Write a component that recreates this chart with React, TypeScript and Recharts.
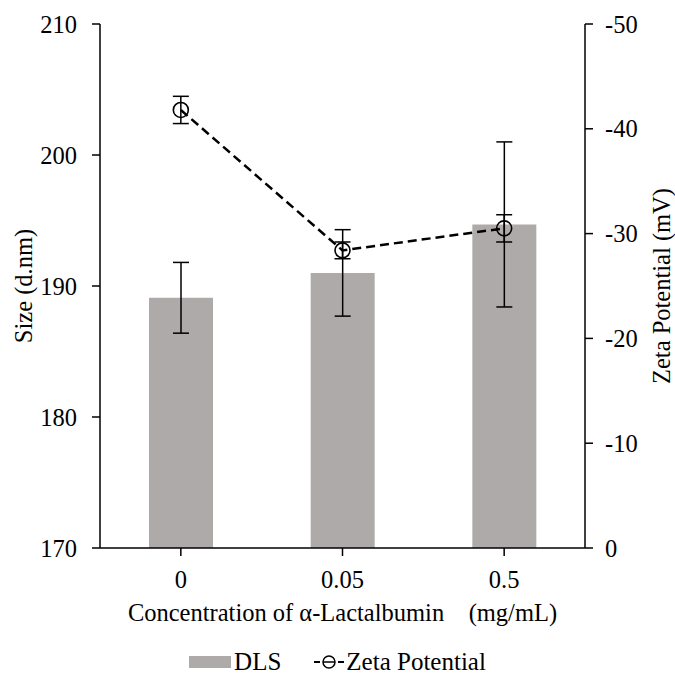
import { ComposedChart, Bar, Line, XAxis, YAxis, ErrorBar, Legend } from 'recharts';

const concentrations = ['0', '0.05', '0.5'];
const dlsSize = [189.1, 191.0, 194.7];
const dlsError = [2.7, 3.3, 6.3];
const zetaPotential = [-41.8, -28.4, -30.5];
const zetaError = [1.3, 0.8, 1.3];
const sizeTicks = [170, 180, 190, 200, 210];
const zetaTicks = [-50, -40, -30, -20, -10, 0];

const data = concentrations.map((conc, i) => ({
  conc,
  dls: dlsSize[i],
  dlsErr: dlsError[i],
  zeta: zetaPotential[i],
  zetaErr: zetaError[i],
}));

const FONT = '"Liberation Serif", "Times New Roman", serif';
const FONT_SIZE = 24.5;
const BAR_GREY = '#aeaaaa';
const tickStyle = { fill: '#000', fontSize: FONT_SIZE, fontFamily: FONT };

const RingDot = (props: any) => {
  const { cx, cy } = props;
  if (cx == null || cy == null) return null;
  return <circle cx={cx} cy={cy} r={7.5} fill="none" stroke="#000" strokeWidth={1.6} />;
};

const renderLegend = () => (
  <div
    style={{
      height: 46,
      boxSizing: 'border-box',
      paddingTop: 21,
      display: 'flex',
      justifyContent: 'center',
      alignItems: 'center',
      fontFamily: FONT,
      fontSize: 25,
      lineHeight: '25px',
      color: '#000',
    }}
  >
    <span style={{ display: 'inline-block', width: 42, height: 12, background: BAR_GREY, marginRight: 3 }} />
    <span>DLS</span>
    <svg width={30} height={20} style={{ marginLeft: 33, marginRight: 2 }}>
      <line x1={0} y1={10} x2={6} y2={10} stroke="#000" strokeWidth={2} />
      <line x1={24} y1={10} x2={30} y2={10} stroke="#000" strokeWidth={2} />
      <circle cx={15} cy={10} r={6} fill="none" stroke="#000" strokeWidth={1.5} />
      <line x1={9} y1={10} x2={21} y2={10} stroke="#000" strokeWidth={1.5} />
    </svg>
    <span>Zeta Potential</span>
  </div>
);

export default function App() {
  return (
    <div style={{ position: 'absolute', left: 0, top: 0, width: 675, height: 674, background: '#fff', fontFamily: FONT }}>
      <ComposedChart
        width={675}
        height={674}
        data={data}
        margin={{ top: 24, right: 0, left: 0, bottom: 0 }}
        style={{ fontFamily: FONT }}
      >
        <XAxis
          dataKey="conc"
          height={80}
          axisLine={{ stroke: '#000', strokeWidth: 1.5 }}
          tickLine={{ stroke: '#000', strokeWidth: 1.5 }}
          tickSize={8}
          tickMargin={15}
          tick={tickStyle}
          label={{
            content: (p: any) => {
              const vb = p.viewBox;
              return (
                <text
                  x={vb.x + vb.width / 2}
                  y={vb.y + 73}
                  textAnchor="middle"
                  fontFamily={FONT}
                  fontSize={FONT_SIZE}
                  fill="#000"
                  style={{ whiteSpace: 'pre' }}
                >
                  {'Concentration of α-Lactalbumin    (mg/mL)'}
                </text>
              );
            },
          }}
        />
        <YAxis
          yAxisId="left"
          width={100}
          domain={[170, 210]}
          ticks={sizeTicks}
          interval={0}
          allowDataOverflow
          axisLine={{ stroke: '#000', strokeWidth: 1.5 }}
          tickLine={{ stroke: '#000', strokeWidth: 1.5 }}
          tickSize={8}
          tickMargin={15}
          tick={tickStyle}
          label={{
            content: (p: any) => {
              const vb = p.viewBox;
              const cy = vb.y + vb.height / 2;
              return (
                <text
                  x={32}
                  y={cy}
                  transform={`rotate(-90, 32, ${cy})`}
                  textAnchor="middle"
                  fontFamily={FONT}
                  fontSize={FONT_SIZE}
                  fill="#000"
                >
                  Size (d.nm)
                </text>
              );
            },
          }}
        />
        <YAxis
          yAxisId="right"
          orientation="right"
          width={90}
          domain={[-50, 0]}
          ticks={zetaTicks}
          interval={0}
          reversed
          allowDataOverflow
          axisLine={{ stroke: '#000', strokeWidth: 1.5 }}
          tickLine={{ stroke: '#000', strokeWidth: 1.5 }}
          tickSize={8}
          tickMargin={12}
          tick={{ ...tickStyle, textAnchor: 'start' }}
          label={{
            content: (p: any) => {
              const vb = p.viewBox;
              const cy = vb.y + vb.height / 2;
              return (
                <text
                  x={670}
                  y={cy}
                  transform={`rotate(-90, 670, ${cy})`}
                  textAnchor="middle"
                  fontFamily={FONT}
                  fontSize={FONT_SIZE}
                  fill="#000"
                >
                  Zeta Potential (mV)
                </text>
              );
            },
          }}
        />
        <Legend verticalAlign="bottom" height={46} content={renderLegend} />
        <Bar yAxisId="left" dataKey="dls" name="DLS" fill={BAR_GREY} barSize={64} isAnimationActive={false}>
          <ErrorBar dataKey="dlsErr" width={8} stroke="#000" strokeWidth={1.5} />
        </Bar>
        <Line
          yAxisId="right"
          dataKey="zeta"
          name="Zeta Potential"
          stroke="#000"
          strokeWidth={2.5}
          strokeDasharray="9 5"
          dot={<RingDot />}
          activeDot={false}
          isAnimationActive={false}
        >
          <ErrorBar dataKey="zetaErr" width={8} stroke="#000" strokeWidth={1.5} />
        </Line>
      </ComposedChart>
    </div>
  );
}
